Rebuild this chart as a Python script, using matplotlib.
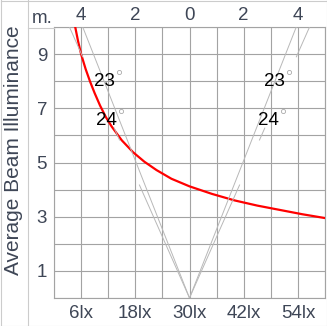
import matplotlib.pyplot as plt
import numpy as np
from matplotlib.lines import Line2D

plt.rcParams['font.family'] = ['Liberation Sans', 'DejaVu Sans']

# red curve: illuminance (lx) vs distance (m)
lux = [4.7, 5.3, 6.0, 7.0, 8.0, 9.0, 10.2, 11.5, 12.8, 15.0, 17.5, 20.0,
       22.7, 26.0, 30.0, 35.0, 40.0, 45.0, 50.0, 55.0, 60.0]
dist = [10.0, 9.5, 9.0, 8.45, 7.98, 7.56, 7.1, 6.67, 6.32, 5.82, 5.38, 5.03,
        4.72, 4.4, 4.12, 3.84, 3.6, 3.41, 3.25, 3.09, 2.95]

# beam cone lines: half width (m) at 10 m, visible distance ranges
cone_width = [3.94, 4.43]
cone_visible = [[(0, 10)], [(0, 4.17), (5.83, 6.27), (8.9, 10)]]

# beam angle labels
beam_labels = ["23", "24"]
label_dist = [8.0, 6.55]
label_left = [-3.14, -3.06]
label_right = [3.14, 2.9]

lux_ticks = [6, 18, 30, 42, 54]
lux_labels = ["6lx", "18lx", "30lx", "42lx", "54lx"]
m_ticks = [-4, -2, 0, 2, 4]
m_labels = ["4", "2", "0", "2", "4"]
y_ticks = [1, 3, 5, 7, 9]

W, H = 327, 326
grid_c = '#a3a3a3'
frame_c = '#cccccc'
tick_c = '#3e4656'

fig = plt.figure(figsize=(W / 100, H / 100), dpi=100)
ax = fig.add_axes([54 / W, 28 / H, 271 / W, 271 / H])
ax.set_xlim(0, 60)
ax.set_ylim(0, 10)
ax.set_xticks(lux_ticks)
ax.set_xticklabels(lux_labels)
ax.set_xticks(np.arange(0, 61, 6), minor=True)
ax.set_yticks(y_ticks)
ax.set_yticks(np.arange(0, 11, 1), minor=True)
ax.grid(which='both', color=grid_c, lw=0.8)
ax.tick_params(which='both', length=0)
ax.tick_params(axis='x', pad=5, labelsize=13.5, labelcolor=tick_c)
ax.tick_params(axis='y', pad=5, labelsize=13.5, labelcolor=tick_c)
for s in ax.spines.values():
    s.set_color(grid_c)
    s.set_linewidth(0.8)

ax.plot(lux, dist, color='#ff0000', lw=1.6, zorder=4)

axm = ax.twiny()
axm.set_xlim(-5, 5)
axm.set_xticks(m_ticks)
axm.set_xticklabels(m_labels)
axm.tick_params(length=0, pad=2, labelsize=13.5, labelcolor=tick_c)
for s in axm.spines.values():
    s.set_visible(False)

for w, segs in zip(cone_width, cone_visible):
    for d0, d1 in segs:
        for side in (-1, 1):
            axm.plot([side * w * d0 / 10, side * w * d1 / 10], [d0, d1],
                     color='#b8b8b8', lw=0.7, zorder=2)

for lab, d, xl, xr in zip(beam_labels, label_dist, label_left, label_right):
    for x in (xl, xr):
        axm.text(x, d, lab, fontsize=13.5, color='black', ha='center', va='center', zorder=5)
        axm.plot([x + 0.54], [d + 0.34], 'o', ms=3, mfc='white', mec='#aaaaaa', mew=0.6, zorder=5)

fig.text(42 / W, 1 - 23 / H, "m.", fontsize=13.5, color=tick_c, ha='center', va='baseline')
fig.text(13.5 / W, 1 - 150 / H, "Average Beam Illuminance", rotation=90, fontsize=15,
         color=tick_c, ha='center', va='center')

# frame lines
def fline(x0, y0, x1, y1):
    fig.add_artist(Line2D([x0 / W, x1 / W], [1 - y0 / H, 1 - y1 / H],
                          transform=fig.transFigure, color=frame_c, lw=0.8))

fline(0.5, 0.5, W - 0.5, 0.5)
fline(0.5, H - 0.5, W - 0.5, H - 0.5)
fline(0.5, 0, 0.5, H)
fline(W - 0.5, 0, W - 0.5, H)
fline(27.5, 0, 27.5, H)
fline(27.5, 27.5, 54, 27.5)

fig.savefig('out.png', dpi=100)
